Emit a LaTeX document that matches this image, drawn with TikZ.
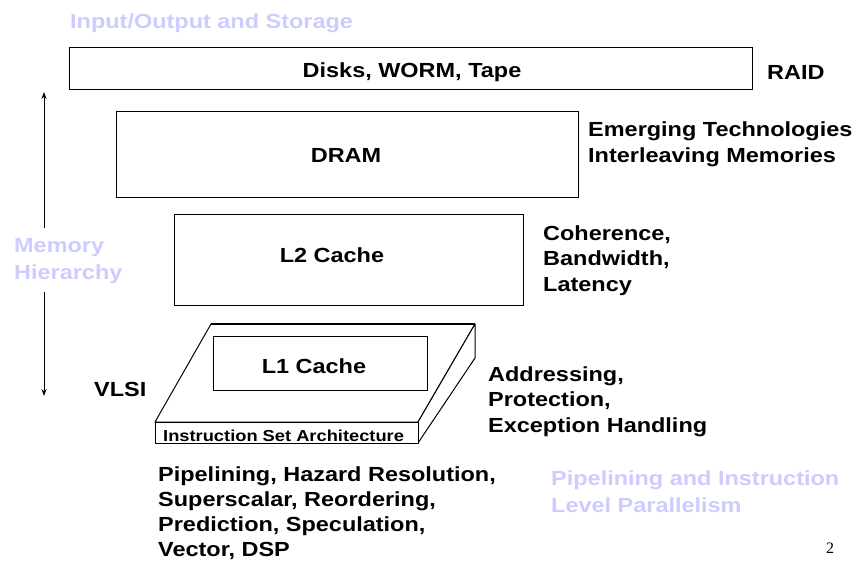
\documentclass[tikz,border=0pt]{standalone}
\usepackage{fontspec}
\setmainfont{Liberation Sans}[FakeStretch=1.15]
\newfontfamily\pagefont{Liberation Serif}
\usetikzlibrary{arrows.meta}
\definecolor{lightblue}{RGB}{204,204,255}
\tikzset{
  box/.style={draw=black, line width=1pt, fill=white, inner sep=0pt},
  lbl/.style={inner sep=0pt, font=\bfseries\fontsize{20.4}{25.5}\selectfont, align=left},
  blbl/.style={lbl, text=lightblue},
  small/.style={inner sep=0pt, font=\bfseries\fontsize{15.9}{19}\selectfont},
  slab/.style={draw=black, line width=1pt, fill=white, line join=round},
  hier/.style={line width=0.9pt, -{Stealth[length=7pt,width=5pt]}}
}
\begin{document}
\begin{tikzpicture}[x=1pt,y=-1pt]
\useasboundingbox (0,0) rectangle (863,563);

% title
\node[blbl, anchor=base west] (io) at (70,28) {Input/Output and Storage};

% disks
\node[box, minimum width=683pt, minimum height=42pt] (disks) at (410.5,68) {};
\node[lbl, anchor=base] (diskst) at (412,77) {Disks, WORM, Tape};
\node[lbl, anchor=base west] (raid) at (767,79) {RAID};

% DRAM
\node[box, minimum width=462pt, minimum height=86pt] (dram) at (347,154) {};
\node[lbl, anchor=base] (dramt) at (346,162) {DRAM};
\node[lbl, anchor=base west] (emerg) at (588,162) {Emerging Technologies\\Interleaving Memories};

% L2
\node[box, minimum width=349pt, minimum height=91pt] (l2) at (348.5,259.5) {};
\node[lbl, anchor=base] (l2t) at (332,262) {L2 Cache};
\node[lbl, anchor=base west] (coh) at (543,291) {Coherence,\\Bandwidth,\\Latency};

% slab (ISA)
\coordinate (s1) at (211,324);
\coordinate (s2) at (475,324);
\coordinate (s3) at (418,422);
\coordinate (s4) at (155,422);
\coordinate (s5) at (475,358);
\coordinate (s6) at (418,443);
\coordinate (s7) at (155,443);
\draw[slab] (s1) -- (s2) -- (s3) -- (s4) -- cycle;
\draw[slab] (s2) -- (s5) -- (s6) -- (s3) -- cycle;
\draw[slab] (s4) -- (s3) -- (s6) -- (s7) -- cycle;
\draw[line width=1.8pt] (s1) -- (s2);
\node[small, anchor=base west] (isa) at (163,441) {Instruction Set Architecture};

% L1
\node[box, minimum width=214pt, minimum height=54pt] (l1) at (320,363) {};
\node[lbl, anchor=base] (l1t) at (314,373) {L1 Cache};

\node[lbl, anchor=base west] (addr) at (488,432) {Addressing,\\Protection,\\Exception Handling};
\node[lbl, anchor=base west] (vlsi) at (94,396) {VLSI};

% memory hierarchy arrow
\node[blbl, anchor=base west, font=\bfseries\fontsize{20.4}{27}\selectfont] (mh) at (14,279) {Memory\\Hierarchy};
\coordinate (atop) at (44,92);
\coordinate (abot) at (44,396);
\coordinate (g1) at (44,228);
\coordinate (g2) at (44,292);
\draw[hier] (g1) -- (atop);
\draw[hier] (g2) -- (abot);

% bottom texts
\node[lbl, anchor=base west, font=\bfseries\fontsize{20.4}{24.7}\selectfont] (pipe) at (158,556) {Pipelining, Hazard Resolution,\\Superscalar, Reordering,\\Prediction, Speculation,\\Vector, DSP};
\node[blbl, anchor=base west, font=\bfseries\fontsize{20.4}{27}\selectfont] (ilp) at (551,512) {Pipelining and Instruction\\Level Parallelism};

\node[inner sep=0pt, anchor=base, font=\pagefont\fontsize{16}{19}\selectfont] (pg) at (830,553) {2};
\end{tikzpicture}
\end{document}
